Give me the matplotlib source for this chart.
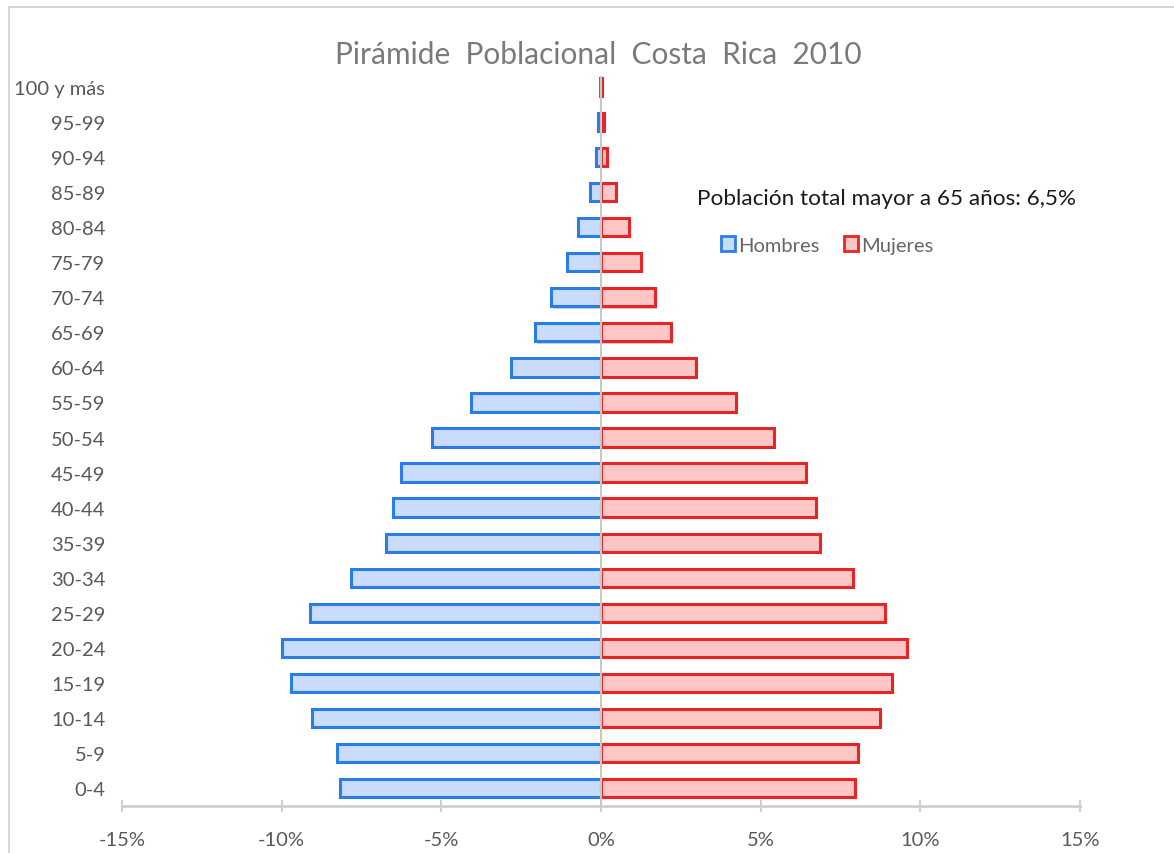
import matplotlib
matplotlib.use("Agg")
import matplotlib.pyplot as plt
from matplotlib.patches import Patch, Rectangle
import matplotlib.patheffects as pe
import numpy as np

plt.rcParams['font.family'] = ['Lato', 'DejaVu Sans']

age_groups = ["0-4", "5-9", "10-14", "15-19", "20-24", "25-29", "30-34", "35-39",
              "40-44", "45-49", "50-54", "55-59", "60-64", "65-69", "70-74", "75-79",
              "80-84", "85-89", "90-94", "95-99", "100 y más"]
hombres = [8.17, 8.27, 9.05, 9.71, 9.99, 9.11, 7.83, 6.73, 6.51, 6.26, 5.29, 4.07,
           2.82, 2.07, 1.57, 1.06, 0.72, 0.34, 0.16, 0.08, 0.03]
mujeres = [7.95, 8.05, 8.74, 9.11, 9.58, 8.89, 7.89, 6.86, 6.73, 6.42, 5.42, 4.23,
           2.98, 2.19, 1.69, 1.25, 0.88, 0.47, 0.19, 0.08, 0.03]
xticks = [-15, -10, -5, 0, 5, 10, 15]
xticklabels = ["-15%", "-10%", "-5%", "0%", "5%", "10%", "15%"]

W, H = 1174, 854
fig = plt.figure(figsize=(W / 100, H / 100), dpi=100)
fig.patch.set_facecolor("white")

# chart border
fig.add_artist(Rectangle((9 / W, -0.1), 1.2, 1.1 - 8 / H, transform=fig.transFigure,
                         fill=False, edgecolor="#d0d0d0", linewidth=1.2))

left, right = 122 / W, 1080 / W
bottom, top = 1 - 806.5 / H, 1 - 70.5 / H
ax = fig.add_axes([left, bottom, right - left, top - bottom])

y = np.arange(len(age_groups))
blue_edge, blue_fill = "#2a7de6", "#c9dcfb"
red_edge, red_fill = "#e82424", "#ffc6c6"
shadow = [pe.SimplePatchShadow(offset=(1.5, -1.5), alpha=0.25), pe.Normal()]

bh = ax.barh(y, [-v for v in hombres], height=0.52, color=blue_fill,
             edgecolor=blue_edge, linewidth=2.2, label="Hombres", zorder=2)
bm = ax.barh(y, mujeres, height=0.52, color=red_fill,
             edgecolor=red_edge, linewidth=2.2, label="Mujeres", zorder=2)
for b in list(bh) + list(bm):
    b.set_path_effects(shadow)

ax.axvline(0, ymin=0, ymax=0.99, color="#c8c8c8", linewidth=1.5, zorder=3)

ax.set_xlim(-15, 15)
ax.set_ylim(-0.5, len(age_groups) - 0.5)
ax.set_xticks(xticks)
ax.set_xticklabels(xticklabels)
ax.set_yticks(y)
ax.set_yticklabels(age_groups)

for s in ["top", "right", "left"]:
    ax.spines[s].set_visible(False)
ax.spines["bottom"].set_color("#cfcfcf")
ax.spines["bottom"].set_linewidth(2)

ax.tick_params(axis="y", length=0, pad=12, labelsize=14.5, labelcolor="#595959")
ax.tick_params(axis="x", direction="inout", length=9, width=1.5, color="#cfcfcf",
               pad=14, labelsize=14.5, labelcolor="#595959")

fig.text(598 / W, 1 - 55 / H, "Pirámide  Poblacional  Costa  Rica  2010", ha="center",
         va="center", fontsize=21.5, color="#7a7a7a")

fig.text(697 / W, 1 - 199 / H, "Población total mayor a 65 años: 6,5%", ha="left",
         va="center", fontsize=16.2, color="#1a1a1a")

handles = [Patch(facecolor=blue_fill, edgecolor=blue_edge, linewidth=2, label="Hombres"),
           Patch(facecolor=red_fill, edgecolor=red_edge, linewidth=2, label="Mujeres")]
fig.legend(handles=handles, loc="center left", bbox_to_anchor=(703 / W, 1 - 246 / H),
           ncol=2, frameon=False, fontsize=14.5, labelcolor="#666666",
           handlelength=0.7, handleheight=0.7, handletextpad=0.15, columnspacing=1.2)

fig.savefig("out.png", dpi=100, facecolor="white")
